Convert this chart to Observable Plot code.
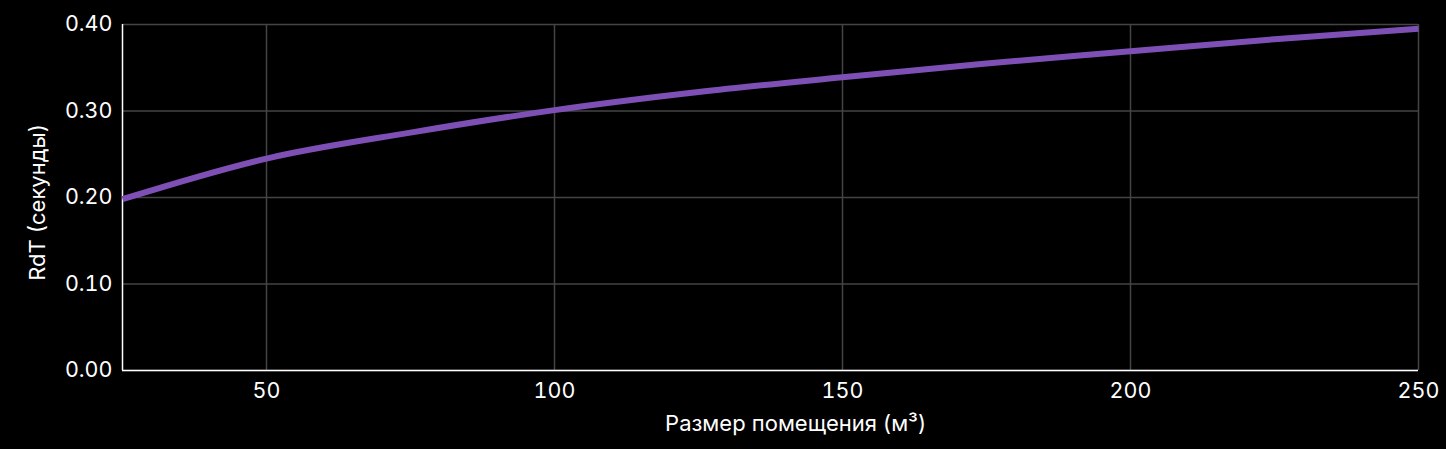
<!DOCTYPE html>
<html>
<head>
<meta charset="utf-8">
<script src="https://cdn.jsdelivr.net/npm/d3@7"></script>
<script src="https://cdn.jsdelivr.net/npm/@observablehq/plot@0.6"></script>
<style>
  html, body { margin: 0; padding: 0; background: #000; }
  #chart svg { display: block; }
</style>
</head>
<body>
<div id="chart"></div>
<script>
const roomSize = [25, 50, 75, 100, 125, 150, 175, 200, 225, 250];
const rdt = [0.198, 0.245, 0.275, 0.301, 0.322, 0.339, 0.355, 0.369, 0.383, 0.395];
const xTicks = [50, 100, 150, 200, 250];
const yTicks = [0, 0.1, 0.2, 0.3, 0.4];
const xLabel = "Размер помещения (м³)";
const yLabel = "RdT (секунды)";

const data = roomSize.map((x, i) => ({x, y: rdt[i]}));

const chart = Plot.plot({
  width: 1446,
  height: 449,
  marginLeft: 122,
  marginRight: 28,
  marginTop: 24,
  marginBottom: 79,
  style: {background: "#000", color: "#fff", fontFamily: "Inter, 'Noto Sans', sans-serif", fontSize: "21px"},
  x: {domain: [25, 250], ticks: xTicks, label: null},
  y: {domain: [0, 0.4], ticks: yTicks, label: null, tickFormat: d3.format(".2f")},
  marks: [
    Plot.gridX(xTicks, {stroke: "#444", strokeOpacity: 1, strokeWidth: 1.5}),
    Plot.gridY(yTicks, {stroke: "#444", strokeOpacity: 1, strokeWidth: 1.5}),
    Plot.ruleX([25], {stroke: "#fff", strokeWidth: 1.5}),
    Plot.ruleY([0], {stroke: "#fff", strokeWidth: 1.5}),
    Plot.axisX({ticks: xTicks, tickSize: 0, tickPadding: 12, fill: "#fff", fontSize: 21.5, label: null}),
    Plot.axisY({ticks: yTicks, tickSize: 0, tickPadding: 10, fill: "#fff", fontSize: 21.5, label: null, tickFormat: d3.format(".2f")}),
    Plot.line(data, {x: "x", y: "y", stroke: "#7e50b6", strokeWidth: 6, curve: "monotone-x", strokeLinecap: "butt"}),
    Plot.text([xLabel], {frameAnchor: "bottom", textAnchor: "middle", lineAnchor: "middle", dx: 25, dy: 53, fill: "#fff", fontSize: 22, text: d => d}),
    Plot.text([yLabel], {frameAnchor: "left", textAnchor: "middle", lineAnchor: "middle", dx: -85, dy: 5, rotate: -90, fill: "#fff", fontSize: 22, text: d => d})
  ]
});
document.getElementById("chart").appendChild(chart);
</script>
</body>
</html>
